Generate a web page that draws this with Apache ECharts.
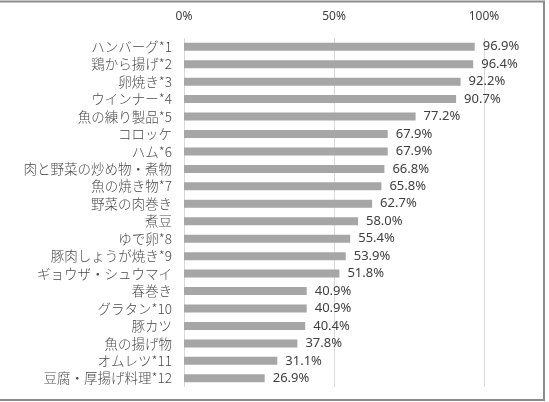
<!DOCTYPE html>
<html>
<head>
<meta charset="utf-8">
<script src="https://cdn.jsdelivr.net/npm/echarts@6/dist/echarts.min.js"></script>
<style>
  html, body { margin: 0; padding: 0; background: #fff; }
  #chart { width: 549px; height: 402px; }
</style>
</head>
<body>
<div id="chart"></div>
<script>
// items, top to bottom
var categories = [
    'ハンバーグ*1', '鶏から揚げ*2', '卵焼き*3', 'ウインナー*4', '魚の練り製品*5',
    'コロッケ', 'ハム*6', '肉と野菜の炒め物・煮物', '魚の焼き物*7', '野菜の肉巻き',
    '煮豆', 'ゆで卵*8', '豚肉しょうが焼き*9', 'ギョウザ・シュウマイ', '春巻き',
    'グラタン*10', '豚カツ', '魚の揚げ物', 'オムレツ*11', '豆腐・厚揚げ料理*12'
];
var values = [
    96.9, 96.4, 92.2, 90.7, 77.2,
    67.9, 67.9, 66.8, 65.8, 62.7,
    58.0, 55.4, 53.9, 51.8, 40.9,
    40.9, 40.4, 37.8, 31.1, 26.9
];
var tickValues = [0, 50, 100];

var chart = echarts.init(document.getElementById('chart'));

var option = {
    animation: false
    , textStyle: {
        fontFamily: '"Noto Sans", "Noto Sans CJK JP", sans-serif'
    }
    , graphic: [{
        type: 'rect'
        , shape: { x: -2, y: 1.5, width: 546, height: 398.5 }
        , style: { fill: 'none', stroke: '#8c8c8c', lineWidth: 2 }
    }]
    , grid: {
        left: 184
        , right: 65
        , top: 38
        , bottom: 15
    }
    , xAxis: {
        type: 'value'
        , position: 'top'
        , min: tickValues[0]
        , max: tickValues[tickValues.length - 1]
        , interval: 50
        , axisLine: { show: false }
        , axisTick: { show: false }
        , splitLine: { lineStyle: { color: '#d9d9d9', width: 1 } }
        , axisLabel: {
            margin: 15
            , color: '#404040'
            , fontSize: 12
            , formatter: '{value}%'
        }
    }
    , yAxis: {
        type: 'category'
        , inverse: true
        , data: categories
        , axisLine: { show: false }
        , axisTick: { show: false }
        , axisLabel: {
            interval: 0
            , margin: 12
            , color: '#4a4a4a'
            , fontSize: 13.5
            , fontFamily: '"Noto Sans CJK JP", sans-serif'
            , fontWeight: 300
        }
    }
    , series: [{
        type: 'bar'
        , data: values
        , barWidth: 8
        , itemStyle: { color: '#a6a6a6' }
        , label: {
            show: true
            , position: 'right'
            , distance: 8
            , color: '#404040'
            , fontSize: 13
            , formatter: function (p) {
                return p.value.toFixed(1) + '%';
            }
        }
    }]
};

chart.setOption(option);
</script>
</body>
</html>
